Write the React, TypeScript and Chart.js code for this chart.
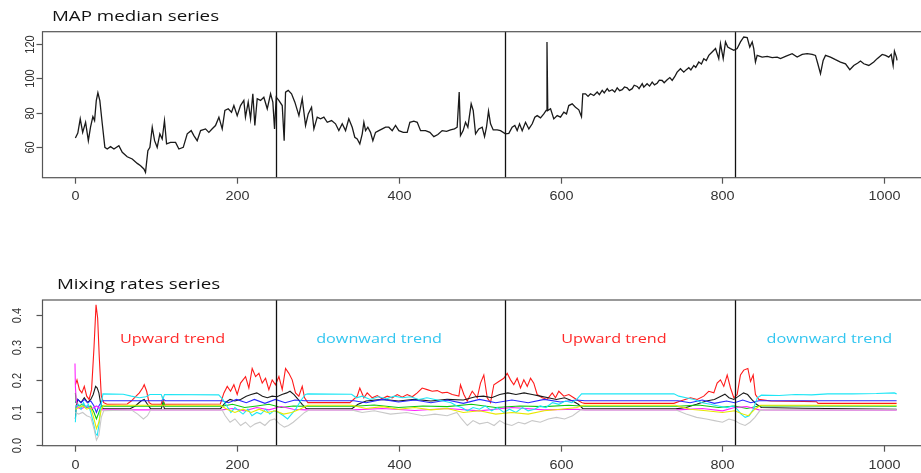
import React, { useEffect, useRef } from "react";
import { Chart, registerables } from "chart.js";

Chart.register(...registerables);

// ---------- data ----------
const xTicks = [0, 200, 400, 600, 800, 1000];
const mapYTicks = [60, 80, 100, 120];
const mixYTicks = [0.0, 0.1, 0.2, 0.3, 0.4];
const changePoints = [249, 532, 815];

const mapMedian: number[][] = [
  [1,65.1],[4,68],[7,76.3],[10,68.4],[13.6,74.3],[17,63.5],[19.7,71.4],[22.6,77.6],[24.7,75.3],[26.8,87],[28.8,91.6],[31.2,87],[34.2,73.4],[37.4,59.6],[40.3,58.6],[44.4,60],[48.6,58.6],[54.7,60.6],[58.9,56.7],[65,54.1],[71.2,52.8],[77.4,50.2],[81.5,48.8],[85.6,46.9],[87.6,44.9],[90.5,57.6],[93,59.6],[95.9,71.4],[98.8,63.5],[102,59.6],[105.3,67.5],[108.2,64.5],[111,75.3],[113.6,61.6],[118.5,62.5],[124.7,62.5],[128.8,58.6],[134.2,59.6],[139.1,67.5],[144,69.4],[147.3,66.5],[151.4,63.5],[155.6,69.4],[161.7,70.4],[165.8,68.4],[170,70.5],[174,72.4],[178.2,77.3],[182.3,70.4],[185.6,81.2],[189.7,82.2],[193.8,80.2],[196.7,84.1],[200.8,78.2],[204.9,84.1],[209,87.1],[211,77.3],[214.4,86.1],[217.3,76.3],[220.1,91],[222.6,72.4],[225.5,88.1],[229.6,87.1],[233.7,89],[237.9,82.2],[242,91],[244.8,86.1],[246.9,70.4],[249,89],[252.2,87.1],[256.4,84.1],[258.8,63.5],[260.5,92],[263.8,93],[267.9,91],[272,86.1],[277,78.2],[281.1,88.1],[285.2,72.4],[288.5,79.2],[292.6,83.1],[295.5,70.4],[299.6,77.3],[303.7,76.3],[307.8,77.3],[312,74.3],[317.3,75.3],[322.2,73.4],[326.3,69.4],[330.5,73.4],[334.6,69.4],[338.6,76.3],[342.8,71.4],[346,65.5],[349,64.5],[352.2,61.6],[355.2,67.5],[357.2,74.3],[359.3,69.4],[362.1,71.4],[365.4,68.4],[368.3,63.5],[371.6,68.4],[375.7,69.4],[379.9,70.4],[384,71.4],[388,71.4],[392.2,69.4],[396.3,72.4],[400.4,69.4],[405.8,68.4],[410.7,68.4],[414,74.3],[418.9,74.9],[423.1,74.3],[427.2,69.4],[433.3,69.4],[438.7,68.4],[443.6,65.9],[448.6,67.1],[453.9,69.4],[459.3,69],[464.2,69.8],[469.1,70.4],[472.4,71.4],[474.9,92],[476.5,66.5],[479.8,69.4],[482.7,74.3],[485.6,71.4],[489.7,85.1],[492.2,81.2],[495.1,67.5],[499.1,70.4],[503.3,71.4],[506.2,65.9],[508.6,71.4],[511.1,80.8],[513.6,73.4],[516.9,69.8],[521.8,69.8],[525.9,69.4],[532,67.5],[536.2,67.8],[540.3,71.4],[543.6,72.4],[546.5,69.4],[549.4,73.4],[552.7,69.4],[556.8,74.3],[560.9,70.4],[565.1,73.4],[568.3,77.3],[571.2,78.2],[575.3,76.9],[579.4,79.2],[582.3,81.2],[583.3,121.4],[584.3,81.2],[587.7,82.2],[591.7,76.3],[595.9,78.2],[600,77.3],[604.1,80.2],[607.4,79.2],[610.2,84.1],[614.4,85.1],[618.5,83.1],[622.6,81.6],[625.9,77.6],[627.5,91],[630.9,91],[634,89.5],[637,91],[641.1,90],[645.3,92],[648,90.5],[651.5,93],[654,91.5],[657.7,94],[660,92.5],[663.8,93.4],[667,92],[670,94.5],[673,92.8],[676.2,93.4],[679,95],[682.3,94.5],[685,93],[688.5,94],[691,96],[694.7,95.3],[697,94],[700.9,96.9],[702.8,94.9],[706.9,96.9],[710,95.5],[713.2,97.8],[716,96.2],[719.3,97.2],[722,99],[725.5,98.8],[728,97.5],[731.7,99.2],[735,100.5],[737.9,98.8],[741,101],[744,103.7],[748.1,105.7],[752.2,103.7],[755,105],[758.4,106.3],[761,105],[764.6,107.6],[767,106.5],[770.7,109.6],[774,108.5],[776.9,111.6],[780,110.5],[783.1,113.5],[787.2,115.5],[791.4,117.5],[795.4,111.6],[797.5,120.4],[800.9,111.6],[803.7,121.4],[806.5,118.4],[809.9,117.5],[814,116.5],[818.1,117.5],[822.2,121.4],[826.3,124.3],[830.5,124],[833.7,118.4],[836.7,121.4],[838.6,117.5],[840.7,109.6],[842.8,113.5],[849,112.5],[855.2,112.9],[861.3,112.2],[867.5,112.5],[871.6,111.6],[877.8,112.9],[886,114.5],[892.2,112.5],[898.4,114.1],[904.6,114.5],[910.7,114.1],[914.8,113.5],[917.7,108.6],[921,102.8],[924.3,110.6],[927.2,113.5],[933.3,112.5],[939.5,111],[945.7,109.6],[951.9,108.6],[957.2,105.1],[962.1,107.6],[967.1,109],[970.4,110.2],[974.5,108.6],[980.7,107.6],[986.8,109.6],[991,111.6],[997.2,114.1],[1001.2,113.5],[1005.3,112.5],[1008.3,114.1],[1010.7,107.6],[1012.3,116],[1014.8,112.5],[1015.5,110.6]
];

const mixRed: number[][] = [
  [1,0.185],[3,0.2],[6,0.17],[9,0.16],[12,0.18],[15,0.15],[18,0.14],[21,0.17],[24,0.3],[26.5,0.43],[28.5,0.39],[30.5,0.27],[33,0.15],[36,0.13],[40,0.125],[65,0.126],[70,0.135],[75,0.148],[80,0.16],[84,0.175],[86,0.185],[89,0.165],[92,0.13],[95,0.125],[107,0.125],[109,0.145],[111,0.125],[180,0.126],[184.4,0.16],[188.5,0.18],[192.6,0.165],[196.7,0.185],[200.8,0.155],[204.9,0.19],[211.1,0.21],[215.2,0.175],[219.3,0.235],[223.5,0.21],[227.6,0.22],[231.7,0.19],[235.8,0.205],[239.9,0.17],[244,0.2],[248.1,0.185],[252.3,0.21],[256.4,0.17],[260.5,0.235],[264.6,0.22],[268.7,0.2],[272.8,0.16],[276.9,0.15],[281.1,0.18],[284,0.145],[288,0.13],[340,0.13],[349,0.15],[352.2,0.175],[357.2,0.145],[361.3,0.16],[367.5,0.145],[373.7,0.152],[379.8,0.142],[386,0.15],[392.2,0.145],[398.4,0.155],[404.5,0.147],[410.7,0.155],[416.9,0.148],[423.1,0.16],[429.2,0.175],[435.4,0.17],[441.6,0.165],[447.8,0.167],[454,0.16],[460.1,0.162],[466.3,0.155],[474.5,0.15],[476.5,0.185],[480.7,0.155],[484.8,0.135],[491,0.165],[497.2,0.145],[501.2,0.19],[505.3,0.215],[509.5,0.145],[513.6,0.13],[517.7,0.185],[523.8,0.195],[530,0.205],[534.2,0.22],[538.3,0.2],[542.3,0.185],[546.5,0.205],[550.6,0.175],[554.7,0.2],[558.9,0.18],[563,0.205],[567,0.19],[571.2,0.155],[577.4,0.145],[583.6,0.14],[589.8,0.16],[593.8,0.145],[597.9,0.165],[604.1,0.15],[610.3,0.155],[616.4,0.145],[622.6,0.135],[626.8,0.13],[630,0.128],[740,0.128],[748,0.135],[760.5,0.145],[768.7,0.14],[776.9,0.15],[783,0.165],[789.3,0.16],[793.4,0.19],[797.5,0.2],[801.6,0.18],[805.8,0.215],[809.9,0.175],[814,0.145],[818.1,0.155],[822.2,0.215],[826.3,0.23],[831.3,0.235],[834.6,0.195],[837.9,0.215],[840.7,0.155],[844.9,0.14],[860,0.135],[900,0.134],[916,0.133],[918,0.128],[1015,0.128]
];

const mixBlack: number[][] = [
  [1,0.08],[2,0.12],[4,0.14],[8,0.13],[12,0.145],[16,0.13],[20,0.14],[23,0.155],[26,0.18],[28,0.175],[30,0.16],[32,0.13],[35,0.112],[68,0.111],[75,0.12],[82,0.135],[86,0.14],[90,0.125],[94,0.111],[107,0.111],[109,0.13],[111,0.111],[180,0.111],[186,0.13],[192,0.14],[198,0.135],[205,0.14],[212,0.15],[218,0.155],[225,0.16],[232,0.15],[238,0.145],[244,0.15],[250,0.148],[256,0.155],[262,0.16],[266,0.165],[271,0.155],[276,0.14],[281,0.125],[286,0.112],[342,0.111],[350,0.125],[360,0.135],[380,0.14],[400,0.135],[420,0.14],[440,0.135],[460,0.14],[480,0.138],[495,0.148],[505,0.15],[515,0.145],[525,0.155],[535,0.16],[545,0.155],[555,0.16],[565,0.155],[575,0.15],[585,0.145],[595,0.14],[605,0.145],[615,0.135],[622,0.125],[628,0.111],[742,0.111],[755,0.115],[768,0.125],[780,0.135],[790,0.14],[798,0.15],[803,0.156],[808,0.145],[814,0.14],[820,0.15],[826,0.16],[831,0.155],[836,0.14],[842,0.125],[848,0.115],[900,0.113],[1015,0.11]
];

const mixBlue: number[][] = [
  [1,0.13],[4,0.14],[8,0.13],[12,0.14],[16,0.13],[20,0.135],[24,0.12],[27,0.1],[30,0.12],[34,0.136],[108,0.136],[110,0.14],[112,0.136],[182,0.136],[190,0.13],[200,0.14],[212,0.13],[222,0.14],[235,0.128],[248,0.14],[260,0.13],[272,0.138],[284,0.136],[345,0.136],[360,0.13],[380,0.14],[400,0.132],[420,0.138],[440,0.13],[460,0.138],[480,0.128],[500,0.14],[520,0.13],[540,0.138],[560,0.13],[580,0.14],[600,0.132],[620,0.138],[630,0.136],[745,0.136],[760,0.13],[775,0.138],[790,0.128],[805,0.135],[815,0.13],[825,0.138],[835,0.13],[845,0.136],[1015,0.136]
];

const mixCyan: number[][] = [
  [1,0.07],[2,0.12],[5,0.125],[8,0.11],[11,0.13],[14,0.115],[17,0.125],[20,0.1],[23,0.07],[26,0.035],[28,0.03],[30,0.06],[32,0.11],[35,0.157],[60,0.156],[70,0.15],[80,0.145],[88,0.148],[93,0.155],[107,0.155],[109,0.14],[111,0.155],[178,0.154],[183,0.14],[188,0.12],[193,0.1],[198,0.115],[203,0.105],[208,0.095],[214,0.11],[219,0.09],[225,0.1],[230,0.095],[236,0.11],[241,0.095],[246,0.105],[252,0.1],[258,0.09],[263,0.08],[268,0.095],[273,0.11],[279,0.135],[285,0.155],[288,0.157],[342,0.156],[348,0.145],[355,0.15],[365,0.14],[375,0.148],[385,0.142],[395,0.15],[405,0.145],[415,0.148],[425,0.14],[435,0.145],[445,0.14],[455,0.135],[465,0.13],[472,0.12],[478,0.115],[485,0.105],[492,0.115],[500,0.11],[507,0.12],[515,0.105],[522,0.115],[530,0.1],[537,0.11],[545,0.1],[553,0.115],[560,0.105],[568,0.11],[575,0.12],[582,0.115],[590,0.13],[598,0.125],[606,0.135],[614,0.13],[620,0.14],[626,0.157],[740,0.157],[746,0.15],[755,0.145],[765,0.14],[775,0.13],[785,0.125],[795,0.12],[805,0.115],[813,0.12],[818,0.11],[823,0.095],[828,0.085],[833,0.09],[838,0.11],[843,0.145],[848,0.153],[870,0.152],[890,0.155],[910,0.154],[930,0.157],[960,0.157],[990,0.158],[1012,0.16],[1015,0.157]
];

const mixGreen: number[][] = [
  [1,0.16],[2,0.13],[5,0.12],[10,0.125],[15,0.115],[20,0.12],[24,0.1],[27,0.08],[30,0.1],[33,0.12],[36,0.119],[108,0.119],[110,0.13],[112,0.119],[182,0.119],[195,0.125],[210,0.115],[225,0.12],[240,0.125],[255,0.115],[270,0.12],[285,0.119],[345,0.119],[370,0.123],[400,0.115],[430,0.12],[460,0.118],[490,0.125],[520,0.115],[550,0.12],[580,0.118],[610,0.122],[630,0.119],[745,0.119],[770,0.123],[795,0.115],[815,0.12],[830,0.112],[845,0.12],[900,0.12],[1015,0.119]
];

const mixYellow: number[][] = [
  [1,0.11],[5,0.115],[10,0.12],[15,0.11],[20,0.115],[24,0.08],[27,0.05],[30,0.07],[33,0.11],[36,0.122],[180,0.122],[188,0.11],[198,0.1],[208,0.11],[218,0.1],[228,0.11],[238,0.1],[248,0.105],[258,0.095],[268,0.1],[278,0.11],[288,0.122],[342,0.122],[360,0.112],[380,0.118],[400,0.11],[420,0.115],[440,0.108],[460,0.112],[480,0.1],[500,0.105],[520,0.095],[540,0.1],[560,0.095],[580,0.105],[600,0.11],[620,0.115],[628,0.122],[742,0.122],[760,0.11],[780,0.105],[800,0.1],[815,0.105],[825,0.095],[832,0.09],[840,0.11],[847,0.122],[1015,0.122]
];

const mixMagenta: number[][] = [
  [0.5,0.25],[1,0.18],[2,0.14],[4,0.115],[8,0.11],[14,0.12],[20,0.11],[24,0.115],[27,0.12],[30,0.115],[34,0.108],[182,0.108],[195,0.112],[210,0.105],[225,0.115],[240,0.108],[255,0.118],[270,0.11],[285,0.108],[345,0.108],[380,0.112],[420,0.106],[460,0.112],[500,0.105],[540,0.115],[580,0.108],[620,0.11],[630,0.108],[745,0.108],[775,0.112],[800,0.105],[815,0.115],[830,0.118],[845,0.108],[1015,0.107]
];

const mixGray: number[][] = [
  [1,0.1],[5,0.095],[10,0.1],[15,0.09],[20,0.085],[24,0.05],[27,0.015],[30,0.03],[33,0.085],[36,0.105],[70,0.108],[78,0.095],[85,0.08],[90,0.09],[94,0.108],[182,0.108],[186,0.09],[192,0.07],[198,0.08],[205,0.06],[211,0.07],[217,0.055],[223,0.065],[229,0.07],[235,0.06],[241,0.075],[247,0.08],[253,0.065],[259,0.055],[264,0.06],[270,0.07],[277,0.085],[284,0.1],[290,0.108],[342,0.108],[355,0.1],[370,0.105],[390,0.095],[410,0.1],[430,0.09],[445,0.095],[460,0.09],[472,0.1],[478,0.08],[485,0.06],[492,0.075],[500,0.065],[510,0.07],[518,0.06],[525,0.075],[532,0.065],[540,0.06],[548,0.07],[556,0.065],[565,0.075],[575,0.07],[585,0.08],[595,0.085],[605,0.08],[615,0.09],[625,0.108],[742,0.108],[755,0.095],[768,0.085],[780,0.08],[790,0.075],[800,0.07],[808,0.08],[815,0.075],[822,0.065],[828,0.06],[834,0.07],[840,0.085],[846,0.105],[852,0.108],[1015,0.108]
];

const trendTexts = ["Upward trend", "downward trend", "Upward trend", "downward trend"];
const trendX = [121, 376, 666, 932];
const trendY = [0.325, 0.325, 0.324, 0.325];

// ---------- helpers ----------
const toXY = (pairs: number[][]) => pairs.map(([x, y]) => ({ x, y }));
const SX = 1.2;

function stretchText(ctx: CanvasRenderingContext2D, text: string, x: number, y: number, align: CanvasTextAlign, sx: number, rotate = false) {
  ctx.save();
  ctx.translate(x, y);
  ctx.scale(sx, 1);
  if (rotate) ctx.rotate(-Math.PI / 2);
  ctx.textAlign = align;
  ctx.fillText(text, 0, 0);
  ctx.restore();
}

function makeFramePlugin(opts: {
  title: string;
  titleX: number;
  titleY: number;
  yTicks: number[];
  yFmt: (v: number) => string;
  yLabelX: number;
  xLabelOffset: number;
  annotate?: boolean;
}) {
  return {
    id: "rframe",
    afterDatasetsDraw(chart: any) {
      const ctx: CanvasRenderingContext2D = chart.ctx;
      const { left, right, top, bottom } = chart.chartArea;
      const xs = chart.scales.x;
      const ys = chart.scales.y;
      ctx.save();
      // change-point lines
      ctx.strokeStyle = "#111";
      ctx.lineWidth = 1.3;
      changePoints.forEach((cp) => {
        const px = Math.round(xs.getPixelForValue(cp)) + 0.5;
        ctx.beginPath();
        ctx.moveTo(px, top);
        ctx.lineTo(px, bottom);
        ctx.stroke();
      });
      // box
      ctx.strokeStyle = "#555";
      ctx.lineWidth = 1.2;
      ctx.strokeRect(left, top, right - left, bottom - top);
      // x ticks
      ctx.fillStyle = "#333";
      ctx.textBaseline = "middle";
      ctx.font = "12px 'Liberation Sans', Arial, sans-serif";
      xTicks.forEach((t) => {
        const px = Math.round(xs.getPixelForValue(t)) + 0.5;
        ctx.beginPath();
        ctx.moveTo(px, bottom);
        ctx.lineTo(px, bottom + 6);
        ctx.stroke();
        stretchText(ctx, String(t), px, bottom + opts.xLabelOffset, "center", SX);
      });
      // y ticks
      ctx.font = "11px 'Liberation Sans', Arial, sans-serif";
      opts.yTicks.forEach((t) => {
        const py = Math.round(ys.getPixelForValue(t)) + 0.5;
        ctx.beginPath();
        ctx.moveTo(left, py);
        ctx.lineTo(left - 6, py);
        ctx.stroke();
        stretchText(ctx, opts.yFmt(t), opts.yLabelX, py, "center", SX, true);
      });
      // title
      ctx.fillStyle = "#111";
      ctx.font = "15px 'Open Sans', sans-serif";
      stretchText(ctx, opts.title, opts.titleX, opts.titleY, "left", 1.25);
      // annotations
      if (opts.annotate) {
        ctx.font = "13.5px 'Open Sans', sans-serif";
        trendTexts.forEach((txt, i) => {
          ctx.fillStyle = i % 2 === 0 ? "#ff2a2a" : "#33c6f0";
          stretchText(ctx, txt, xs.getPixelForValue(trendX[i]), ys.getPixelForValue(trendY[i]), "center", SX);
        });
      }
      ctx.restore();
    },
  };
}

const CW = 940;

function baseOptions(ymin: number, ymax: number, padding: any) {
  return {
    responsive: false,
    animation: false as const,
    devicePixelRatio: 1,
    layout: { padding },
    plugins: { legend: { display: false }, title: { display: false }, tooltip: { enabled: false } },
    scales: {
      x: { type: "linear" as const, min: -39.6, max: 1055.6, display: false },
      y: { type: "linear" as const, min: ymin, max: ymax, display: false },
    },
    elements: { point: { radius: 0 }, line: { tension: 0 } },
  };
}

export default function App() {
  const topRef = useRef<HTMLCanvasElement>(null);
  const botRef = useRef<HTMLCanvasElement>(null);

  useEffect(() => {
    const top = new Chart(topRef.current!, {
      type: "line",
      data: {
        datasets: [
          { data: toXY(mapMedian), borderColor: "#1a1a1a", borderWidth: 1.3, pointRadius: 0 },
        ],
      },
      options: baseOptions(41.8, 127.4, { left: 42.5, right: CW - 929.5, top: 31.7, bottom: 236 - 177.7 }) as any,
      plugins: [
        makeFramePlugin({
          title: "MAP median series",
          titleX: 52,
          titleY: 17,
          yTicks: mapYTicks,
          yFmt: (v) => String(v),
          yLabelX: 30,
          xLabelOffset: 18.5,
        }),
      ],
    });

    const series: [number[][], string][] = [
      [mixGray, "#c8c8c8"],
      [mixYellow, "#e8e800"],
      [mixCyan, "#1ee6f5"],
      [mixMagenta, "#ff20ff"],
      [mixGreen, "#10c810"],
      [mixBlue, "#2a2aff"],
      [mixBlack, "#1a1a1a"],
      [mixRed, "#ff1a1a"],
    ];
    const bot = new Chart(botRef.current!, {
      type: "line",
      data: {
        datasets: series.map(([d, c]) => ({ data: toXY(d), borderColor: c, borderWidth: 1.1, pointRadius: 0 })),
      },
      options: baseOptions(-0.002, 0.445, { left: 42.5, right: CW - 929.5, top: 64, bottom: 237 - 209.7 }) as any,
      plugins: [
        makeFramePlugin({
          title: "Mixing rates series",
          titleX: 57,
          titleY: 49,
          yTicks: mixYTicks,
          yFmt: (v) => v.toFixed(1),
          yLabelX: 17,
          xLabelOffset: 20,
          annotate: true,
        }),
      ],
    });
    return () => {
      top.destroy();
      bot.destroy();
    };
  }, []);

  return (
    <div style={{ position: "fixed", left: 0, top: 0, width: 921, height: 473, overflow: "hidden", background: "#fff" }}>
      <canvas ref={topRef} width={CW} height={236} style={{ position: "absolute", left: 0, top: 0, width: CW, height: 236 }} />
      <canvas ref={botRef} width={CW} height={237} style={{ position: "absolute", left: 0, top: 236, width: CW, height: 237 }} />
    </div>
  );
}
